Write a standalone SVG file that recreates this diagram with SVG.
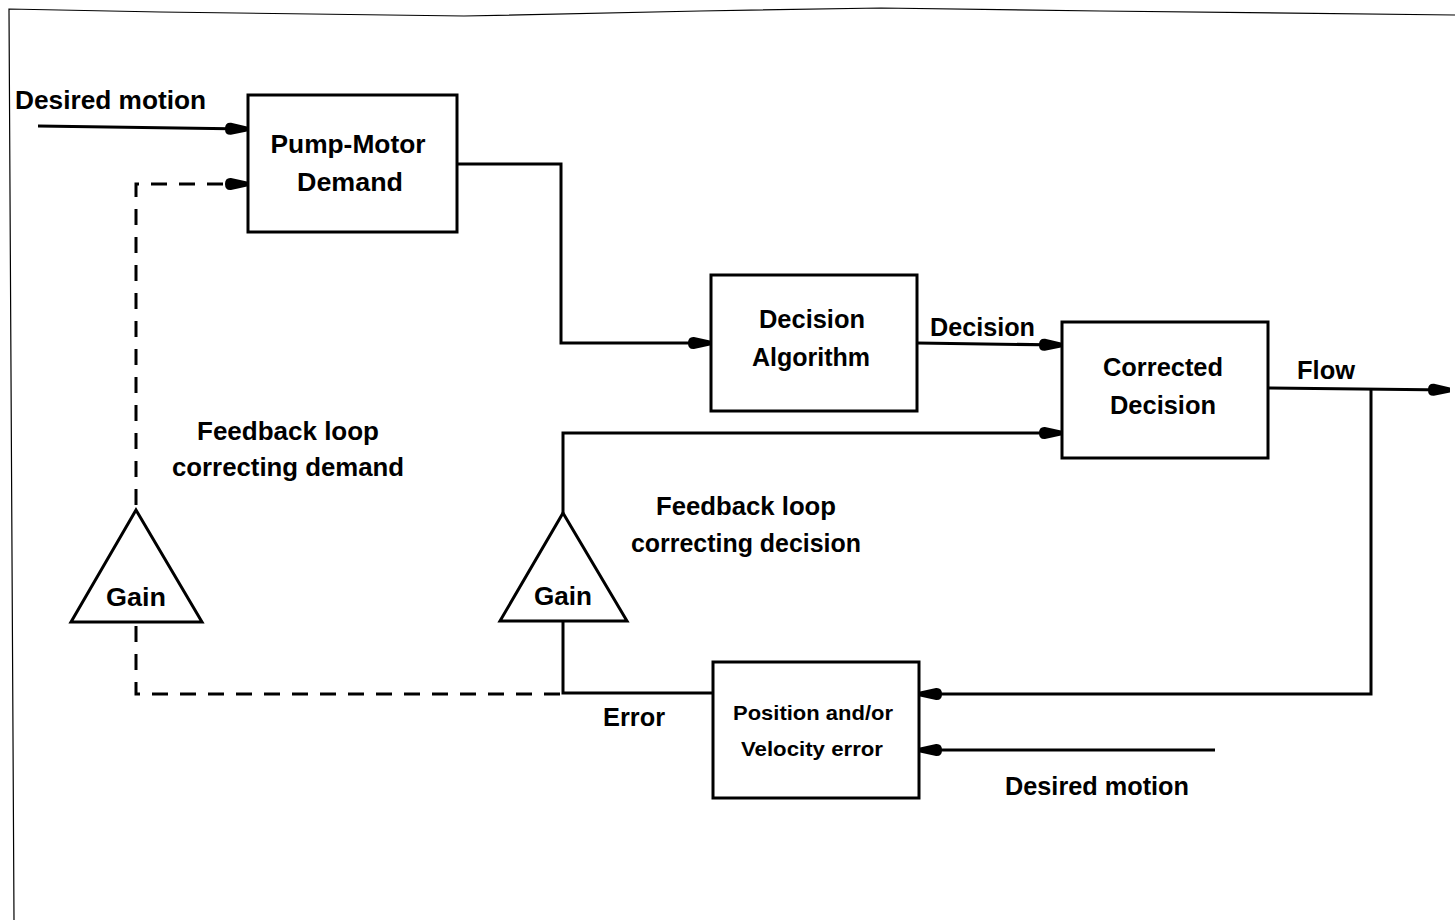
<svg xmlns="http://www.w3.org/2000/svg" width="1455" height="920" viewBox="0 0 1455 920">
  <style>
    .box { fill: #fff; stroke: #000; stroke-width: 3; }
    .tri { fill: #fff; stroke: #000; stroke-width: 3; stroke-linejoin: miter; }
    .wire { fill: none; stroke: #000; stroke-width: 3; }
    .dash { fill: none; stroke: #000; stroke-width: 3; stroke-dasharray: 16 12; }
    .lbl { font-family: "Liberation Sans", Arial, sans-serif; font-weight: bold; font-size: 25px; fill: #000; }
    .sm { font-size: 21px; }
    .mid { text-anchor: middle; }
  </style>
  <defs>
    <!-- blunt, round-backed arrowhead -->
    <marker id="arr" viewBox="0 0 22 14" refX="22" refY="7" markerWidth="22" markerHeight="14" markerUnits="userSpaceOnUse" orient="auto">
      <path d="M0,7 Q0,0.5 6,1 L22,4.5 L22,9.5 L6,13 Q0,13.5 0,7 Z" fill="#000"/>
    </marker>
  </defs>

  <rect width="1455" height="920" fill="#fff"/>

  <!-- frame -->
  <g id="frame" fill="none" stroke="#000" stroke-width="1.2">
    <polyline points="14,920 9,9 160,12 464,16 700,11 881,8 1100,11 1455,15"/>
  </g>

  <!-- connectors -->
  <g id="connectors">
    <line class="wire" x1="38" y1="126" x2="247" y2="129" marker-end="url(#arr)"/>
    <polyline class="dash" points="136,505 136,184 247,184" marker-end="url(#arr)"/>
    <polyline class="wire" points="457,164 561,164 561,343 710,343" marker-end="url(#arr)"/>
    <line class="wire" x1="917" y1="343" x2="1061" y2="345" marker-end="url(#arr)"/>
    <line class="wire" x1="1268" y1="388" x2="1450" y2="390" marker-end="url(#arr)"/>
    <polyline class="wire" points="1371,390 1371,694 920,694" marker-end="url(#arr)"/>
    <line class="wire" x1="1215" y1="750" x2="920" y2="750" marker-end="url(#arr)"/>
    <polyline class="wire" points="713,693 563,693 563,621"/>
    <polyline class="wire" points="563,513 563,433 1061,433" marker-end="url(#arr)"/>
    <polyline class="dash" points="560,694 136,694 136,623"/>
  </g>

  <!-- free labels -->
  <g id="labels">
    <text class="lbl" x="15" y="109" textLength="191" lengthAdjust="spacingAndGlyphs">Desired motion</text>
    <text class="lbl" x="930" y="336" textLength="105" lengthAdjust="spacingAndGlyphs">Decision</text>
    <text class="lbl" x="1297" y="379" textLength="58" lengthAdjust="spacingAndGlyphs">Flow</text>
    <text class="lbl mid" x="288" y="440" textLength="182" lengthAdjust="spacingAndGlyphs">Feedback loop</text>
    <text class="lbl mid" x="288" y="476" textLength="232" lengthAdjust="spacingAndGlyphs">correcting demand</text>
    <text class="lbl mid" x="746" y="515" textLength="180" lengthAdjust="spacingAndGlyphs">Feedback loop</text>
    <text class="lbl mid" x="746" y="552" textLength="230" lengthAdjust="spacingAndGlyphs">correcting decision</text>
    <text class="lbl" x="603" y="726" textLength="62" lengthAdjust="spacingAndGlyphs">Error</text>
    <text class="lbl" x="1005" y="795" textLength="184" lengthAdjust="spacingAndGlyphs">Desired motion</text>
  </g>

  <!-- blocks -->
  <g id="pump-motor-demand">
    <rect class="box" x="248" y="95" width="209" height="137"/>
    <text class="lbl mid" x="348" y="153" textLength="155" lengthAdjust="spacingAndGlyphs">Pump-Motor</text>
    <text class="lbl mid" x="350" y="191" textLength="106" lengthAdjust="spacingAndGlyphs">Demand</text>
  </g>

  <g id="decision-algorithm">
    <rect class="box" x="711" y="275" width="206" height="136"/>
    <text class="lbl mid" x="812" y="328" textLength="106" lengthAdjust="spacingAndGlyphs">Decision</text>
    <text class="lbl mid" x="811" y="366" textLength="118" lengthAdjust="spacingAndGlyphs">Algorithm</text>
  </g>

  <g id="corrected-decision">
    <rect class="box" x="1062" y="322" width="206" height="136"/>
    <text class="lbl mid" x="1163" y="376" textLength="120" lengthAdjust="spacingAndGlyphs">Corrected</text>
    <text class="lbl mid" x="1163" y="414" textLength="106" lengthAdjust="spacingAndGlyphs">Decision</text>
  </g>

  <g id="position-velocity-error">
    <rect class="box" x="713" y="662" width="206" height="136"/>
    <text class="lbl sm mid" x="813" y="720" textLength="160" lengthAdjust="spacingAndGlyphs">Position and/or</text>
    <text class="lbl sm mid" x="812" y="756" textLength="142" lengthAdjust="spacingAndGlyphs">Velocity error</text>
  </g>

  <g id="gain-demand">
    <polygon class="tri" points="136,510 202,622 71,622"/>
    <text class="lbl mid" x="136" y="606" textLength="60" lengthAdjust="spacingAndGlyphs">Gain</text>
  </g>

  <g id="gain-decision">
    <polygon class="tri" points="563,513 627,621 500,621"/>
    <text class="lbl mid" x="563" y="605" textLength="58" lengthAdjust="spacingAndGlyphs">Gain</text>
  </g>
</svg>
